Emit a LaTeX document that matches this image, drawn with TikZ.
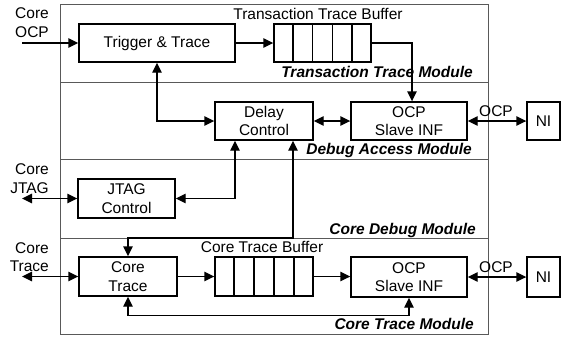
\documentclass[tikz,border=0pt]{standalone}
\usepackage{fontspec}
\setmainfont{Liberation Sans}
\usetikzlibrary{arrows.meta,calc}
\tikzset{
  box/.style={draw, line width=1.4pt, inner sep=0pt, align=center, font=\fontsize{15.5}{18.5}\selectfont},
  conn/.style={line width=1.4pt, -{Triangle[length=10pt,width=9.5pt]}},
  dconn/.style={line width=1.4pt, {Triangle[length=10pt,width=9.5pt]}-{Triangle[length=10pt,width=9.5pt]}},
  frame/.style={draw=black!65, line width=0.9pt},
  lbl/.style={inner sep=0pt, align=right, font=\fontsize{15.5}{18.5}\selectfont},
  txt/.style={inner sep=0pt, font=\fontsize{15.5}{18.5}\selectfont},
  modl/.style={inner sep=0pt, anchor=base east, font=\fontsize{15.5}{18.5}\selectfont\bfseries\itshape}
}
\begin{document}
\begin{tikzpicture}[x=1pt,y=-1pt]
\useasboundingbox (0,0) rectangle (562,341);
% frame and dividers
\draw[frame] (60,4) rectangle (488,334);
\draw[frame] (60,82) -- (488,82);
\draw[frame] (60,159) -- (488,159);
\draw[frame] (60,238) -- (488,238);

% nodes
\node[box, minimum width=156pt, minimum height=38pt] (trig) at (157,43) {Trigger \& Trace};
\node[box, minimum width=97pt, minimum height=38pt] (tbuf) at (322.5,43) {};
\node[box, minimum width=98pt, minimum height=38pt] (dly) at (264,121) {Delay\\Control};
\node[box, minimum width=116pt, minimum height=38pt] (slv1) at (409,121) {OCP\\Slave INF};
\node[box, minimum width=33pt, minimum height=38pt] (ni1) at (543.5,121) {NI};
\node[box, minimum width=97pt, minimum height=39pt] (jtag) at (126.5,198.5) {JTAG\\Control};
\node[box, minimum width=98pt, minimum height=39pt] (ctr) at (128,276.5) {Core\\Trace};
\node[box, minimum width=98pt, minimum height=39pt] (cbuf) at (264,276.5) {};
\node[box, minimum width=116pt, minimum height=40pt] (slv2) at (409,277) {OCP\\Slave INF};
\node[box, minimum width=33pt, minimum height=40pt] (ni2) at (543.5,277) {NI};

% buffer cells
\foreach \b in {tbuf,cbuf}{
  \foreach \i in {1,...,4}{
    \draw[line width=1.4pt] ($(\b.north west)!\i/5!(\b.north east)$) -- ($(\b.south west)!\i/5!(\b.south east)$);
  }
}

% texts
\node[lbl, anchor=east] (locp) at (49,22.5) {Core\\OCP};
\node[lbl, anchor=east] (ljtag) at (49,178.5) {Core\\JTAG};
\node[lbl, anchor=east] (ltrace) at (49,257) {Core\\Trace};
\node[txt, anchor=base] (ttb) at (318,19) {Transaction Trace Buffer};
\node[txt, anchor=base] (ctb) at (262,252) {Core Trace Buffer};
\node[txt, anchor=base] (ocp1) at (496,116) {OCP};
\node[txt, anchor=base] (ocp2) at (496,272) {OCP};
\node[modl] (m1) at (473,77) {Transaction Trace Module};
\node[modl] (m2) at (472,154) {Debug Access Module};
\node[modl] (m3) at (476,234) {Core Debug Module};
\node[modl] (m4) at (474,329) {Core Trace Module};

% free ends
\coordinate (inocp) at (22,43);
\coordinate (injtag) at (22,198.5);
\coordinate (intrace) at (22,276.5);
\coordinate (k1) at (293,238);
\coordinate (k2) at (128,238);

% connectors
\draw[conn] (inocp) -- (trig.west);
\draw[conn] (trig.east) -- (tbuf.west);
\draw[conn] (tbuf.east) -| ([xshift=3pt]slv1.north);
\draw[dconn] (trig.south) |- (dly.west);
\draw[dconn] (dly.east) -- (slv1.west);
\draw[dconn] (slv1.east) -- (ni1.west);
\draw[dconn] ([xshift=-29pt]dly.south) |- (jtag.east);
\draw[dconn] (injtag) -- (jtag.west);
\draw[dconn] (ctr.north) -- (k2) -- (k1) -- ([xshift=29pt]dly.south);
\draw[dconn] (intrace) -- (ctr.west);
\draw[conn] (ctr.east) -- (cbuf.west);
\draw[conn] (cbuf.east) -- (cbuf.east -| slv2.west);
\draw[dconn] (slv2.east) -- (slv2.east -| ni2.west);
\draw[dconn] (ctr.south) -- ++(0,19) -| (slv2.south);
\end{tikzpicture}
\end{document}
